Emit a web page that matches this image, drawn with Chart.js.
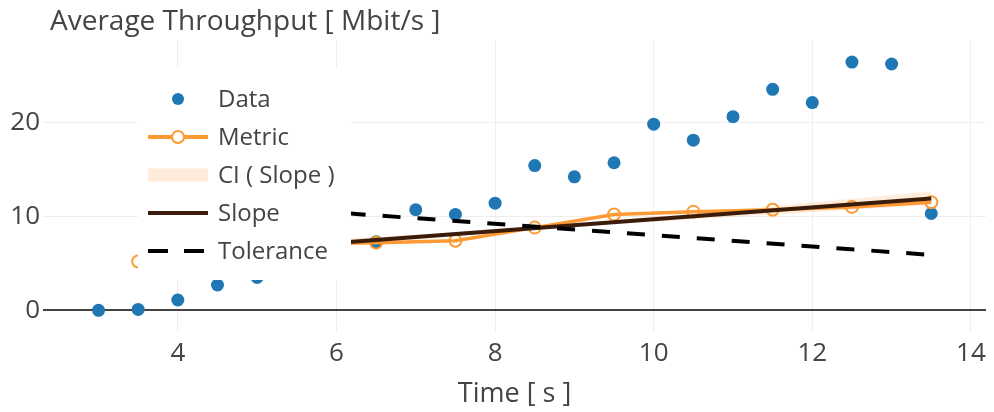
<!DOCTYPE html>
<html>
<head>
<meta charset="utf-8">
<script src="https://cdn.jsdelivr.net/npm/chart.js@4.4.1/dist/chart.umd.min.js"></script>
<style>
  html, body { margin: 0; padding: 0; background: #fff; }
  #wrap { width: 994px; height: 412px; }
</style>
</head>
<body>
<div id="wrap"><canvas id="myChart" width="994" height="412"></canvas></div>
<script>
// data
const times = [3, 3.5, 4, 4.5, 5, 5.5, 6, 6.5, 7, 7.5, 8, 8.5, 9, 9.5, 10, 10.5, 11, 11.5, 12, 12.5, 13, 13.5];
const throughput = [0, 0.1, 1.1, 2.7, 3.5, 5.0, 6.4, 7.3, 10.7, 10.2, 11.4, 15.4, 14.2, 15.7, 19.8, 18.1, 20.6, 23.5, 22.1, 26.4, 26.2, 10.3];

const metricTimes = [3.5, 4.5, 5.5, 6.5, 7.5, 8.5, 9.5, 10.5, 11.5, 12.5, 13.5];
const metric = [5.2, 6.3, 7.1, 7.2, 7.4, 8.8, 10.2, 10.5, 10.7, 11.0, 11.5];
const ciLow = [4.85, 5.6, 6.4, 7.15, 7.9, 8.63, 9.18, 9.7, 10.2, 10.7, 11.25];
const ciHigh = [6.35, 6.8, 7.3, 7.8, 8.3, 8.87, 9.58, 10.32, 11.08, 11.87, 12.65];

const slopeTimes = [3.5, 13.5];
const slope = [5.6, 11.9];
const toleranceTimes = [3.5, 13.5];
const tolerance = [11.9, 5.9];

const xTicks = [4, 6, 8, 10, 12, 14];
const yTicks = [0, 10, 20];

const legendLabels = ['Data', 'Metric', 'CI ( Slope )', 'Slope', 'Tolerance'];

const pts = (xs, ys) => xs.map((x, i) => ({ x: x, y: ys[i] }));

const BLUE = '#1f77b4';
const ORANGE = '#ff9933';
const CI_FILL = 'rgba(255, 127, 14, 0.15)';
const SLOPE = '#3b1c0a';
const FONT = '"Open Sans", sans-serif';
const TXT = '#444';

// title + legend box drawn on top
const overlay = {
  id: 'overlay',
  afterDraw(chart) {
    const c = chart.ctx;
    c.save();
    c.fillStyle = TXT;
    c.font = '28px ' + FONT;
    c.textBaseline = 'middle';
    c.textAlign = 'left';
    c.fillText('Average Throughput [ Mbit/s ]', 50, 22);

    c.fillStyle = '#fff';
    c.fillRect(138, 68, 213, 212);

    const rows = [99, 137, 175, 213, 251];
    // Data
    c.fillStyle = BLUE;
    c.beginPath(); c.arc(178, rows[0], 6, 0, Math.PI * 2); c.fill();
    // Metric
    c.strokeStyle = ORANGE; c.lineWidth = 4;
    c.beginPath(); c.moveTo(148, rows[1]); c.lineTo(208, rows[1]); c.stroke();
    c.fillStyle = '#fff'; c.lineWidth = 2;
    c.beginPath(); c.arc(178, rows[1], 6, 0, Math.PI * 2); c.fill(); c.stroke();
    // CI
    c.fillStyle = CI_FILL;
    c.fillRect(148, rows[2] - 6.5, 60, 13);
    // Slope
    c.strokeStyle = SLOPE; c.lineWidth = 4;
    c.beginPath(); c.moveTo(148, rows[3]); c.lineTo(208, rows[3]); c.stroke();
    // Tolerance
    c.strokeStyle = '#000'; c.setLineDash([20, 16]);
    c.beginPath(); c.moveTo(148, rows[4]); c.lineTo(208, rows[4]); c.stroke();
    c.setLineDash([]);

    c.fillStyle = TXT;
    c.font = '24px ' + FONT;
    legendLabels.forEach((t, i) => c.fillText(t, 218, rows[i] + 1));
    c.restore();
  }
};

const ctx = document.getElementById('myChart');
new Chart(ctx, {
  type: 'line',
  data: {
    datasets: [
      {
        label: 'Tolerance',
        data: pts(toleranceTimes, tolerance),
        borderColor: '#000',
        borderWidth: 4,
        borderDash: [18, 17],
        pointRadius: 0,
        fill: false,
        order: 1
      },
      {
        label: 'Slope',
        data: pts(slopeTimes, slope),
        borderColor: SLOPE,
        borderWidth: 4,
        pointRadius: 0,
        fill: false,
        order: 2
      },
      {
        label: 'Metric',
        data: pts(metricTimes, metric),
        borderColor: ORANGE,
        borderWidth: 3.5,
        pointRadius: 6,
        pointBorderWidth: 2,
        pointBorderColor: ORANGE,
        pointBackgroundColor: 'rgba(0,0,0,0)',
        fill: false,
        order: 3
      },
      {
        label: 'Data',
        data: pts(times, throughput),
        showLine: false,
        pointRadius: 6.5,
        pointBorderWidth: 0,
        pointBackgroundColor: BLUE,
        borderColor: BLUE,
        order: 4
      },
      {
        label: 'CI low',
        data: pts(metricTimes, ciLow),
        borderWidth: 0,
        borderColor: 'rgba(0,0,0,0)',
        pointRadius: 0,
        fill: false,
        order: 5
      },
      {
        label: 'CI ( Slope )',
        data: pts(metricTimes, ciHigh),
        borderWidth: 0,
        borderColor: 'rgba(0,0,0,0)',
        backgroundColor: CI_FILL,
        pointRadius: 0,
        fill: '-1',
        order: 5
      }
    ]
  },
  options: {
    responsive: false,
    animation: false,
    layout: { padding: { top: 40, right: 6, left: 0, bottom: 0 } },
    elements: { line: { tension: 0 } },
    plugins: {
      legend: { display: false },
      tooltip: { enabled: false },
      title: { display: false }
    },
    scales: {
      x: {
        type: 'linear',
        min: 2.3,
        max: 14.19,
        afterBuildTicks: (s) => { s.ticks = xTicks.map(v => ({ value: v })); },
        afterFit: (s) => { s.height = 80; },
        grid: { color: '#eeeeee', lineWidth: 1, drawTicks: false },
        border: { display: false },
        ticks: { padding: 6, color: TXT, font: { family: FONT, size: 26 } },
        title: {
          display: true,
          text: 'Time [ s ]',
          color: TXT,
          font: { family: FONT, size: 27 },
          padding: { top: 0, bottom: 1 }
        }
      },
      y: {
        min: -2.3,
        max: 28.75,
        afterBuildTicks: (s) => { s.ticks = yTicks.map(v => ({ value: v })); },
        afterFit: (s) => { s.width = 43; },
        grid: {
          drawTicks: false,
          color: (c) => c.tick && c.tick.value === 0 ? '#444444' : '#eeeeee',
          lineWidth: (c) => c.tick && c.tick.value === 0 ? 2 : 1
        },
        border: { display: false },
        ticks: { padding: 3, color: TXT, font: { family: FONT, size: 26 } }
      }
    }
  },
  plugins: [overlay]
});
</script>
</body>
</html>
